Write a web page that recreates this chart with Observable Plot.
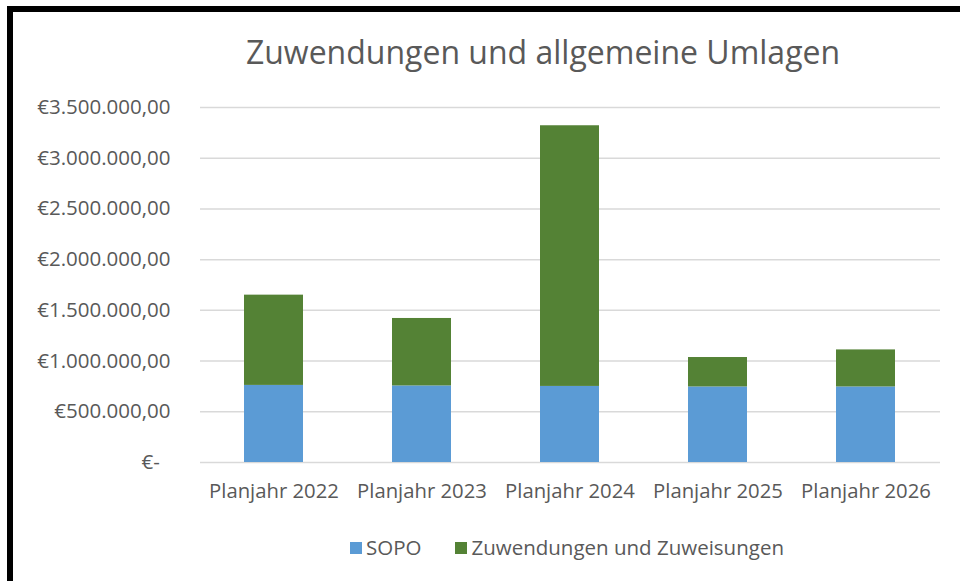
<!DOCTYPE html>
<html>
<head>
<meta charset="utf-8">
<script src="https://cdn.jsdelivr.net/npm/d3@7"></script>
<script src="https://cdn.jsdelivr.net/npm/@observablehq/plot@0.6"></script>
<style>
  html, body { margin: 0; padding: 0; background: #fff; width: 960px; height: 581px; overflow: hidden; font-family: "Open Sans", sans-serif; }
  #frame { position: absolute; left: 7px; top: 6px; width: 1000px; height: 1000px; border-left: 6px solid #000; border-top: 6px solid #000; }
  #title { position: absolute; left: 0; top: 30px; width: 1086px; text-align: center; font-size: 32px; color: #595959; white-space: nowrap; }
  #chart { position: absolute; left: 0; top: 0; }
  #legend { position: absolute; top: 533px; left: 0; width: 1134px; text-align: center; font-size: 20.5px; color: #595959; white-space: nowrap; }
  #legend span.sw { display: inline-block; width: 12px; height: 12px; margin-right: 4px; vertical-align: 1px; }
  #legend span.item { margin: 0 17px; }
  #legend span.item + span.item { margin-left: 17px; }
  #legend span.gap { display: inline-block; width: 10px; }
</style>
</head>
<body>
<div id="frame"></div>
<div id="title">Zuwendungen und allgemeine Umlagen</div>
<div id="chart"></div>
<div id="legend"></div>
<script>
const categories = ["Planjahr 2022", "Planjahr 2023", "Planjahr 2024", "Planjahr 2025", "Planjahr 2026"];
const sopo = [760000, 755000, 750000, 745000, 745000];
const zuwendungen = [890000, 665000, 2570000, 290000, 365000];
const seriesNames = ["SOPO", "Zuwendungen und Zuweisungen"];
const seriesColors = ["#5B9BD5", "#548235"];
const yTicks = [0, 500000, 1000000, 1500000, 2000000, 2500000, 3000000, 3500000];

const data = [];
categories.forEach((c, i) => {
  data.push({cat: c, series: seriesNames[0], value: sopo[i]});
  data.push({cat: c, series: seriesNames[1], value: zuwendungen[i]});
});

const de = d3.formatLocale({decimal: ",", thousands: ".", grouping: [3], currency: ["€", ""]});
const fmt = de.format(",.2f");
const yFormat = v => v === 0 ? "€-\u00a0\u00a0" : "€" + fmt(v);

const chart = Plot.plot({
  width: 960,
  height: 520,
  marginTop: 107,
  marginBottom: 58,
  marginLeft: 200,
  marginRight: 20,
  style: {fontFamily: "Open Sans, sans-serif", fontSize: "20px", color: "#595959", background: "transparent"},
  x: {domain: categories, paddingInner: 0.6, paddingOuter: 0.3, label: null},
  y: {domain: [0, 3500000], label: null},
  color: {domain: seriesNames, range: seriesColors},
  marks: [
    Plot.gridY(yTicks, {stroke: "#d9d9d9", strokeOpacity: 1, strokeWidth: 1.5}),
    Plot.barY(data, Plot.stackY({x: "cat", y: "value", fill: "series", order: seriesNames})),
    Plot.axisY(yTicks, {tickSize: 0, tickPadding: 30, tickFormat: yFormat, fontSize: 20.5, fill: "#595959", label: null}),
    Plot.axisX({tickSize: 0, tickPadding: 21, fontSize: 20.3, fill: "#595959", label: null})
  ]
});
document.getElementById("chart").appendChild(chart);

const legend = document.getElementById("legend");
seriesNames.forEach((n, i) => {
  const item = document.createElement("span");
  item.className = "item";
  const sw = document.createElement("span");
  sw.className = "sw";
  sw.style.background = seriesColors[i];
  item.appendChild(sw);
  item.appendChild(document.createTextNode(n));
  legend.appendChild(item);
});
</script>
</body>
</html>
